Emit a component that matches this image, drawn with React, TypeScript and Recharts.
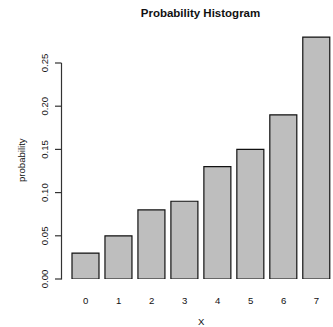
import React from 'react';
import { BarChart, Bar, XAxis, YAxis } from 'recharts';

const categories = ['0', '1', '2', '3', '4', '5', '6', '7'];
const probabilities = [0.03, 0.05, 0.08, 0.09, 0.13, 0.15, 0.19, 0.28];
const yTicks = [0, 0.05, 0.1, 0.15, 0.2, 0.25];
const yTickLabels = ['0.00', '0.05', '0.10', '0.15', '0.20', '0.25'];

const data = categories.map((c, i) => ({ x: c, p: probabilities[i] }));

const W = 333;
const H = 327;
const MARGIN_TOP = 27.4;
const XAXIS_H = 48;
const YAXIS_W = 69.25;
const PLOT_H = H - MARGIN_TOP - XAXIS_H;
const Y_MAX = 0.28 * 1.04;
const FONT = '"Liberation Sans", Arial, Helvetica, sans-serif';
const FS = 9.6;

const YTick = (props: any) => {
  const { x, y, payload, index } = props;
  const axisX = x - 7.75;
  const lastTick = yTicks[yTicks.length - 1];
  const segLen = (lastTick / Y_MAX) * PLOT_H;
  const label = yTickLabels[yTicks.indexOf(payload.value)] ?? String(payload.value);
  return (
    <g>
      {payload.value === 0 && (
        <line x1={axisX} x2={axisX} y1={y + 0.5} y2={y - segLen} stroke="#333" strokeWidth={1.2} />
      )}
      <line x1={axisX} x2={axisX - 6.5} y1={y} y2={y} stroke="#333" strokeWidth={1.2} />
      <text
        transform={`translate(${x - 21}, ${y}) rotate(-90)`}
        textAnchor="middle"
        fontFamily={FONT}
        fontSize={FS}
        fill="#111"
      >
        {label}
      </text>
    </g>
  );
};

const XTick = (props: any) => {
  const { x, y, payload } = props;
  return (
    <text x={x} y={y + 24.5} textAnchor="middle" fontFamily={FONT} fontSize={FS} fill="#111">
      {payload.value}
    </text>
  );
};

const YLabel = (props: any) => {
  const vb = props.viewBox || {};
  const cx = 25;
  const cy = vb.y + vb.height / 2 + 7;
  return (
    <text
      transform={`translate(${cx}, ${cy}) rotate(-90)`}
      textAnchor="middle"
      fontFamily={FONT}
      fontSize={FS}
      fill="#111"
    >
      probability
    </text>
  );
};

const XLabel = (props: any) => {
  const vb = props.viewBox || {};
  return (
    <text
      x={vb.x + vb.width / 2}
      y={vb.y + 46}
      textAnchor="middle"
      fontFamily={FONT}
      fontSize={FS}
      fill="#111"
    >
      X
    </text>
  );
};

export default function App() {
  return (
    <div style={{ position: 'absolute', left: 0, top: 0, width: W, height: H, background: '#fff', overflow: 'hidden' }}>
      <div
        style={{
          position: 'absolute',
          top: 7.6,
          left: 70,
          width: 261,
          textAlign: 'center',
          fontFamily: FONT,
          fontWeight: 'bold',
          fontSize: 11.5,
          lineHeight: '11.5px',
          color: '#111',
          whiteSpace: 'nowrap',
        }}
      >
        Probability Histogram
      </div>
      <BarChart
        width={W}
        height={H}
        data={data}
        margin={{ top: MARGIN_TOP, right: 0, bottom: 0, left: 0 }}
        barCategoryGap="8.33%"
      >
        <XAxis
          dataKey="x"
          height={XAXIS_H}
          axisLine={false}
          tickLine={false}
          tickSize={0}
          tickMargin={0}
          interval={0}
          tick={<XTick />}
          label={<XLabel />}
        />
        <YAxis
          width={YAXIS_W}
          domain={[0, Y_MAX]}
          ticks={yTicks}
          allowDataOverflow
          axisLine={false}
          tickLine={false}
          tickSize={0}
          tickMargin={0}
          interval={0}
          tick={<YTick />}
          label={<YLabel />}
        />
        <Bar dataKey="p" fill="#BEBEBE" stroke="#111" strokeWidth={1.2} isAnimationActive={false} />
      </BarChart>
    </div>
  );
}
